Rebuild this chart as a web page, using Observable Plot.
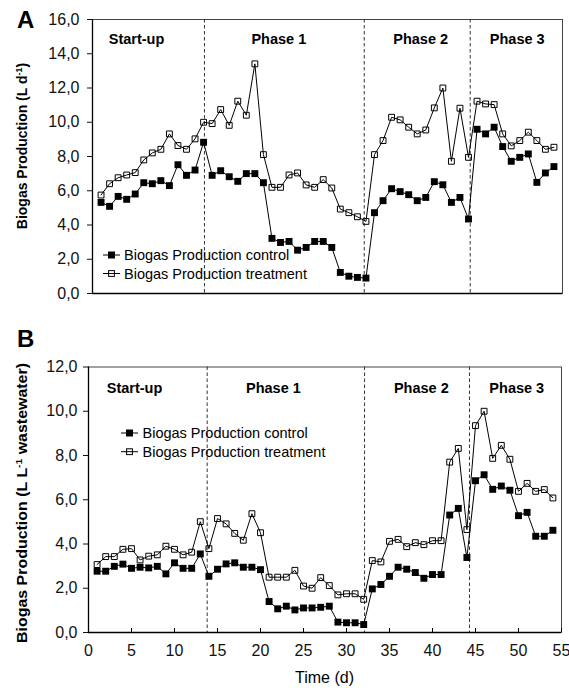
<!DOCTYPE html>
<html><head><meta charset="utf-8">
<script src="https://cdn.jsdelivr.net/npm/d3@7"></script>
<script src="https://cdn.jsdelivr.net/npm/@observablehq/plot@0.6"></script>
<style>
body{margin:0;background:#fff;}
#chart{position:relative;width:569px;height:688px;font-family:"Liberation Sans",Arial,sans-serif;}
#chart svg{position:absolute;left:0;overflow:visible;}
</style></head><body><div id="chart"></div>
<script>
const days = d3.range(1, 55);
const controlA = [5.32,5.09,5.67,5.50,5.81,6.47,6.41,6.59,6.30,7.52,6.90,7.21,8.83,6.90,7.17,6.82,6.55,7.0,7.0,6.47,3.22,2.98,3.04,2.53,2.69,3.04,3.04,2.69,1.23,1.01,0.94,0.90,4.72,5.42,6.12,5.95,5.77,5.42,5.61,6.53,6.35,5.32,5.61,4.35,9.59,9.32,9.71,8.58,7.72,7.95,8.15,6.49,7.04,7.41];
const treatmentA = [5.75,6.41,6.76,6.92,7.06,7.80,8.21,8.42,9.32,8.64,8.42,9.03,10.0,9.92,10.74,9.82,11.23,10.41,13.41,8.11,6.20,6.20,6.92,7.04,6.34,6.20,6.65,6.16,4.93,4.72,4.48,4.21,8.11,8.93,10.29,10.14,9.71,9.32,9.55,10.84,12.0,7.72,10.82,7.95,11.23,11.07,11.03,9.32,8.62,8.93,9.42,8.93,8.42,8.54];
const controlB = [2.77,2.77,2.99,3.09,2.90,2.95,2.92,2.99,2.65,3.15,2.90,2.90,3.55,2.54,2.86,3.10,3.15,2.95,2.95,2.84,1.40,1.07,1.19,1.02,1.11,1.11,1.14,1.19,0.47,0.44,0.44,0.36,1.97,2.17,2.54,2.95,2.86,2.71,2.45,2.62,2.62,5.31,5.61,3.39,6.86,7.13,6.47,6.62,6.43,5.28,5.43,4.35,4.35,4.62];
const treatmentB = [3.07,3.43,3.43,3.76,3.79,3.28,3.45,3.51,3.90,3.76,3.51,3.63,5.01,3.79,5.15,4.91,4.48,4.17,5.37,4.51,2.50,2.50,2.50,2.81,2.10,2.00,2.48,2.12,1.70,1.75,1.75,1.50,3.25,3.19,4.12,4.21,3.88,4.06,3.97,4.15,4.15,7.70,8.32,4.65,9.35,10.0,7.87,8.46,7.83,6.38,6.74,6.38,6.46,6.08];
const phaseLabels = ["Start-up", "Phase 1", "Phase 2", "Phase 3"];
const phaseCentersA = [5.15, 21.8, 38.4, 49.7];
const phaseCentersB = [5.35, 21.5, 38.7, 49.8];
const boundariesA = [13.1, 31.8, 44.2];
const boundariesB = [13.8, 32.1, 44.3];
const yTicksA = [0, 2, 4, 6, 8, 10, 12, 14, 16];
const yTicksB = [0, 2, 4, 6, 8, 10, 12];
const xTicks = [0, 5, 10, 15, 20, 25, 30, 35, 40, 45, 50, 55];
const seriesNames = ["Biogas Production control", "Biogas Production treatment"];
const panelLetters = ["A", "B"];
const xLabel = "Time (d)";

const fmt = d => d.toFixed(1).replace(".", ",");
const FONT = "'Liberation Sans', Arial, sans-serif";

function panel(o) {
  const rows = days.map((d, i) => ({day: d, c: o.control[i], t: o.treatment[i]}));
  const plotH = o.height - o.mTop - o.mBottom;
  const marks = [
    Plot.frame({stroke: "#444", strokeWidth: 1}),
    Plot.ruleX(o.bounds, {stroke: "#333", strokeWidth: 1, strokeDasharray: "3.5,2.5"}),
    Plot.line(rows, {x: "day", y: "c", stroke: "#000", strokeWidth: 1}),
    Plot.line(rows, {x: "day", y: "t", stroke: "#000", strokeWidth: 1}),
    Plot.dot(rows, {x: "day", y: "c", symbol: "square", r: 3.9, fill: "#000", stroke: "none"}),
    Plot.dot(rows, {x: "day", y: "t", symbol: "square", r: 3.3, fill: "none", stroke: "#000", strokeWidth: 1}),
    Plot.text(phaseLabels, {x: (d, i) => o.phaseX[i], text: d => d, frameAnchor: "top", dy: o.phaseDy, fontWeight: "bold", fontSize: 14.5, fill: "#000"}),
    Plot.ruleX([0], {stroke: "#000", strokeWidth: 1.3}),
    Plot.ruleY([0], {stroke: "#000", strokeWidth: 1.3}),
    Plot.axisY({ticks: o.yTicks, tickFormat: fmt, tickSize: 5, tickPadding: o.tickPad, fontSize: 16, label: null})
  ];
  if (o.xAxis) {
    marks.push(Plot.axisX({ticks: xTicks, tickSize: 0, tickPadding: 12, fontSize: 16, label: null, tickFormat: d => String(d)}));
    marks.push(Plot.tickX(xTicks, {x: d => d, insetTop: plotH - 4, stroke: "#000", strokeWidth: 1}));
  }
  return Plot.plot({
    width: 569, height: o.height,
    marginLeft: o.mLeft, marginRight: o.mRight, marginTop: o.mTop, marginBottom: o.mBottom,
    x: {domain: [0, 55], axis: null},
    y: {domain: [0, o.yMax], axis: null},
    style: {fontFamily: FONT, fontSize: "16px", color: "#111", background: "transparent"},
    marks
  });
}

function legend(svg, items) {
  const g = d3.select(svg).append("g").attr("text-anchor", "start");
  items.forEach((it, i) => {
    const y = it.y;
    g.append("line").attr("x1", it.x1).attr("x2", it.x2).attr("y1", y).attr("y2", y).attr("stroke", "#000").attr("stroke-width", 1);
    const s = i === 0 ? 7 : 5.8;
    g.append("rect").attr("x", it.mx - s/2).attr("y", y - s/2).attr("width", s).attr("height", s)
      .attr("fill", i === 0 ? "#000" : "none").attr("stroke", i === 0 ? "none" : "#000").attr("stroke-width", 1);
    g.append("text").attr("x", it.tx).attr("y", y).attr("dy", "0.35em").attr("font-size", 14.5)
      .attr("text-anchor", "start")
      .attr("font-family", FONT).attr("fill", "#000").text(seriesNames[i]);
  });
}

function yLabel(svg, x, y, parts, len) {
  const t = d3.select(svg).append("text")
    .attr("transform", `translate(${x},${y}) rotate(-90)`)
    .attr("text-anchor", "middle").attr("dy", "0.35em")
    .attr("font-family", FONT).attr("font-size", 14).attr("font-weight", "bold").attr("fill", "#000");
  if (len) t.attr("textLength", len).attr("lengthAdjust", "spacingAndGlyphs");
  parts.forEach(p => {
    const ts = t.append("tspan").text(p.t);
    if (p.sup) ts.attr("font-size", 9).attr("baseline-shift", "super");
  });
}

const chart = document.getElementById("chart");

const A = panel({control: controlA, treatment: treatmentA, yMax: 16, yTicks: yTicksA, bounds: boundariesA,
  phaseX: phaseCentersA, phaseDy: 14.3, mLeft: 92, mRight: 7, mTop: 19, mBottom: 25, height: 318, xAxis: false, tickPad: 8});
A.style.top = "0px";
chart.appendChild(A);
legend(A, [{y: 255, x1: 103, x2: 120, mx: 111.5, tx: 124}, {y: 273.5, x1: 103, x2: 120, mx: 111.5, tx: 124}]);
yLabel(A, 22, 146, [{t: "Biogas Production (L d"}, {t: "-1", sup: true}, {t: ")"}]);
d3.select(A).append("text").attr("x", 17).attr("y", 28).attr("text-anchor", "start").attr("font-family", FONT).attr("font-size", 24)
  .attr("font-weight", "bold").attr("fill", "#000").text(panelLetters[0]);

const B = panel({control: controlB, treatment: treatmentB, yMax: 12, yTicks: yTicksB, bounds: boundariesB,
  phaseX: phaseCentersB, phaseDy: 16.2, mLeft: 88, mRight: 8, mTop: 48.5, mBottom: 56, height: 370, xAxis: true, tickPad: 6});
B.style.top = "318px";
chart.appendChild(B);
legend(B, [{y: 115, x1: 121, x2: 138, mx: 129.5, tx: 142.5}, {y: 133.7, x1: 121, x2: 138, mx: 129.5, tx: 142.5}]);
yLabel(B, 22, 185, [{t: "Biogas Production (L L"}, {t: "-1", sup: true}, {t: " wastewater)"}], 280);
d3.select(B).append("text").attr("x", 17).attr("y", 29).attr("text-anchor", "start").attr("font-family", FONT).attr("font-size", 24)
  .attr("font-weight", "bold").attr("fill", "#000").text(panelLetters[1]);
d3.select(B).append("text").attr("x", (88 + 561) / 2).attr("y", 359).attr("dy", "0.35em").attr("text-anchor", "middle")
  .attr("font-family", FONT).attr("font-size", 16).attr("fill", "#000").text(xLabel);
</script></body></html>
